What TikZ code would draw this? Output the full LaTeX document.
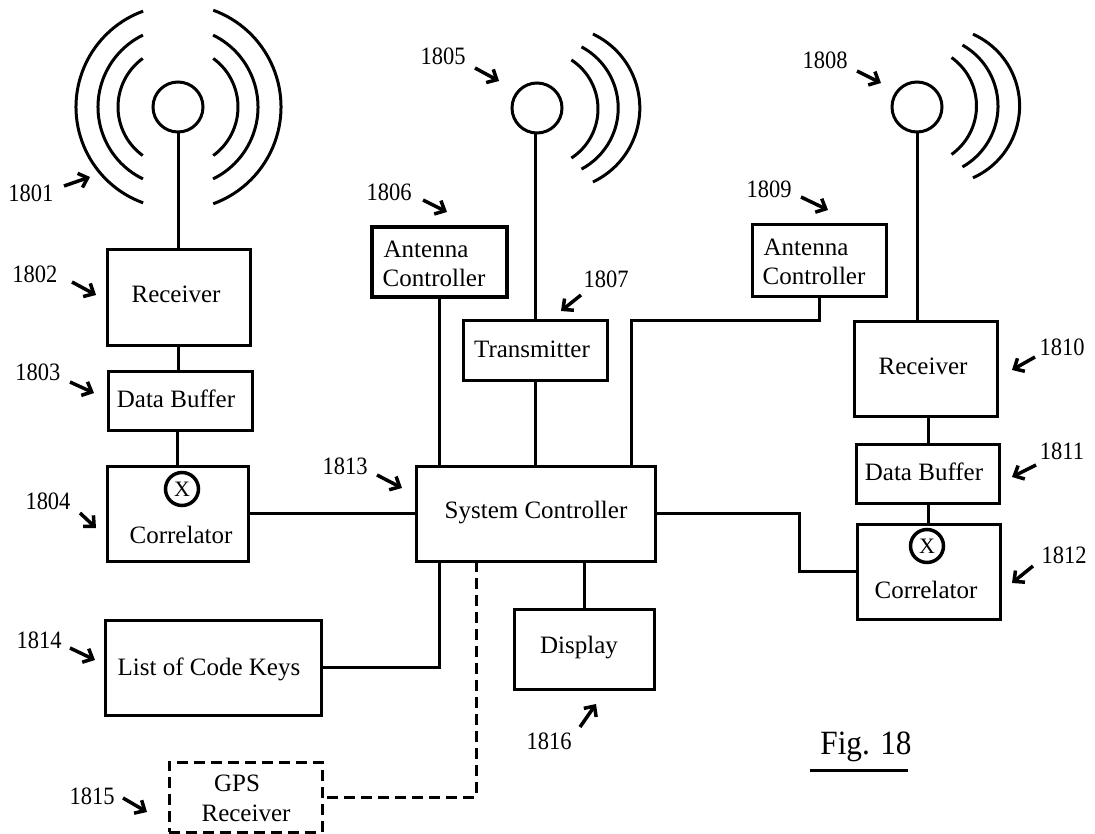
\documentclass[tikz,border=0pt]{standalone}
\usepackage{fontspec}
\setmainfont{Liberation Serif}
\newfontfamily\numfont[FakeStretch=0.9]{Liberation Serif}
\newfontfamily\figfont[FakeStretch=0.92]{Liberation Serif}
\usetikzlibrary{arrows.meta,calc}
\tikzset{
  wire/.style={line width=3pt,line join=miter},
  dashwire/.style={wire,dash pattern=on 11pt off 6pt},
  boxn/.style={draw,line width=3pt,inner sep=0pt,rectangle,fill=white},
  boxthick/.style={line width=4pt},
  boxdash/.style={dash pattern=on 11pt off 6pt},
  ant/.style={draw,circle,line width=3pt,minimum size=50pt,inner sep=0pt},
  mixer/.style={draw,circle,line width=3.5pt,minimum size=33pt,inner sep=0pt,font=\fontsize{22}{24}\selectfont},
  wavearc/.style={line width=3pt},
  txt/.style={inner sep=0pt,font=\fontsize{25}{28}\selectfont},
  num/.style={inner sep=0pt,font=\numfont\fontsize{25}{28}\selectfont},
  callout/.style={line width=3.5pt,-{Straight Barb[length=8pt,width=15pt]}},
}
\newcommand{\pbox}[6]{\node[boxn,#6,minimum width={(#4-#2)*1pt},minimum height={(#5-#3)*1pt}] (#1) at ({(#2+#4)/2},{(#3+#5)/2}) {};}
\newcommand{\wave}[5]{\draw[wavearc] ({#1+#3*cos(#4)},{#2+#3*sin(#4)}) arc[start angle=#4,end angle=#5,radius=#3];}
\newcommand{\callno}[7]{\node[num] (n#1) at (#2,#3) {#1};
  \coordinate (a#1) at (#4,#5); \coordinate (b#1) at (#6,#7); \draw[callout] (a#1) -- (b#1);}
\begin{document}
\begin{tikzpicture}[x=1pt,y=-1pt]
\path[use as bounding box,fill=white] (0,0) rectangle (1095,834);
% antennas
\node[ant] (ant1) at (178,107) {};
\node[ant] (ant2) at (537,108) {};
\node[ant] (ant3) at (917,107) {};
\wave{178}{107}{102}{110}{250}
\wave{178}{107}{80}{116}{244}
\wave{178}{107}{60}{126}{234}
\wave{178}{107}{103}{-70}{70}
\wave{178}{107}{80}{-64}{64}
\wave{178}{107}{60}{-54}{54}
\wave{558}{108}{81.8}{-64.7}{64.7}
\wave{549}{108}{69.2}{-62}{62}
\wave{539.5}{109}{58.5}{-57}{57}
\wave{941}{106}{78.6}{-66}{66}
\wave{928}{106}{70}{-60.5}{60.5}
\wave{917}{106}{59.5}{-54.5}{54.5}
% boxes
\pbox{rx1}{107}{250}{250}{345}{}
\pbox{buf1}{108}{371}{252}{430}{}
\pbox{cor1}{107}{466}{248}{561}{}
\pbox{list}{105}{620}{321}{715}{}
\pbox{gps}{169}{762}{322}{832}{boxdash}
\pbox{sc}{416}{466}{655}{561}{}
\pbox{disp}{514}{609}{654}{689}{}
\pbox{ac1}{372}{227}{507}{297}{boxthick}
\pbox{tx}{463}{321}{607}{380}{}
\pbox{ac2}{752}{225}{886}{297}{}
\pbox{rx2}{854}{322}{997}{416}{}
\pbox{buf2}{856}{444}{999}{503}{}
\pbox{cor2}{857}{524}{1000}{619}{}
% mixers
\node[mixer] (x1) at (182,489) {X};
\node[mixer] (x2) at (927,546) {X};
% box texts
\node[txt] (trx1) at (176,294) {Receiver};
\node[txt] (tbuf1) at (176,399) {Data Buffer};
\node[txt] (tcor1) at (181,535) {Correlator};
\node[txt] (tlist) at (209,669) {List of Code Keys};
\node[txt] (tgps1) at (237,783) {GPS};
\node[txt] (tgps2) at (246,813) {Receiver};
\node[txt] (tsc) at (536,513) {System Controller};
\node[txt] (tdisp) at (579,648) {Display};
\node[txt] (tac1a) at (426,249) {Antenna};
\node[txt] (tac1b) at (434,278) {Controller};
\node[txt] (ttx) at (532,349) {Transmitter};
\node[txt] (tac2a) at (806,247) {Antenna};
\node[txt] (tac2b) at (814,276) {Controller};
\node[txt] (trx2) at (923,366) {Receiver};
\node[txt] (tbuf2) at (924,472) {Data Buffer};
\node[txt] (tcor2) at (926,590) {Correlator};
% connectors
\draw[wire] (ant1.south) -- (ant1.south |- rx1.north);
\draw[wire] (rx1.south) -- (rx1.south |- buf1.north);
\draw[wire] (buf1.south -| cor1.north) -- (cor1.north);
\draw[wire] (cor1.east) -- (cor1.east -| sc.west);
\draw[wire] (ac1.south) -- (ac1.south |- sc.north);
\draw[wire] (ant2.south -| tx.north) -- (tx.north);
\draw[wire] (tx.south) -- (tx.south |- sc.north);
\coordinate (j2) at (631,321);
\draw[wire] (ac2.south) |- (j2) -- (j2 |- sc.north);
\draw[wire] (ant3.south) -- (ant3.south |- rx2.north);
\coordinate (j3) at (928,416);
\draw[wire] (j3) -- (j3 |- buf2.north);
\draw[wire] (j3 |- buf2.south) -- (j3 |- cor2.north);
\coordinate (j1) at (799,540);
\draw[wire] (sc.east) -| (j1) |- (cor2.west);
\draw[wire] (sc.south -| disp.north) -- (disp.north);
\draw[wire] (list.east) -| (ac1.south |- sc.south);
\coordinate (j4) at (476,561);
\draw[dashwire] (j4) |- (gps.east);
% callouts
\callno{1801}{31}{193}{64}{186}{90}{177}
\callno{1802}{35}{274}{72}{282}{96}{295}
\callno{1803}{38}{372}{70}{382}{94}{393}
\callno{1804}{48}{501}{80}{513}{96}{528}
\callno{1805}{443}{56}{475}{68}{499}{81}
\callno{1806}{389}{192}{423}{200}{447}{212}
\callno{1807}{606}{279}{581}{295}{561}{311}
\callno{1808}{825}{60}{857}{71}{881}{83}
\callno{1809}{769}{189}{801}{197}{828}{210}
\callno{1810}{1062}{347}{1035}{357}{1012}{370}
\callno{1811}{1062}{451}{1036}{465}{1012}{477}
\callno{1812}{1064}{555}{1033}{566}{1012}{583}
\callno{1813}{345}{466}{377}{475}{402}{488}
\callno{1814}{39}{640}{70}{648}{95}{660}
\callno{1815}{92}{796}{123}{798}{147}{812}
\callno{1816}{549}{741}{580}{727}{596}{704}
% figure title
\node[inner sep=0pt,font=\figfont\fontsize{34}{36}\selectfont] (fig) at (866,747) {Fig. 18};
\coordinate (u1) at (810,770); \coordinate (u2) at (908,770);
\draw[wire] (u1) -- (u2);
\end{tikzpicture}
\end{document}
